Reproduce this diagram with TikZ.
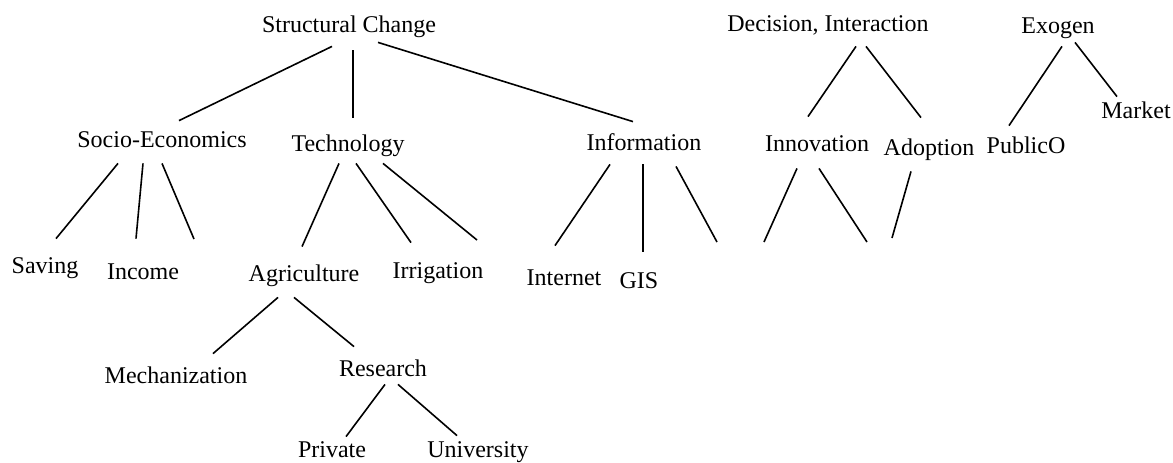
\documentclass[tikz,border=0pt]{standalone}
\usepackage{fontspec}
\setmainfont{Liberation Serif}

\tikzset{
  lbl/.style={inner sep=4pt, text height=9pt, text depth=3pt,
              font=\fontsize{12pt}{14pt}\selectfont},
  lowlbl/.style={lbl, inner sep=1pt, text depth=0pt},
  twig/.style={black, line width=0.8pt},
}

\begin{document}
\begin{tikzpicture}[x=0.5pt, y=-0.5pt]
    \useasboundingbox (0,0) rectangle (1173,462);

    % roots
    \node[lbl] (sc)       at (349,26)   {Structural Change};
    \node[lbl] (decision) at (828,25)   {Decision, Interaction};
    \node[lbl] (exogen)   at (1058,27)  {Exogen};

    % second row
    \node[lbl] (socio)    at (162,141)  {Socio-Economics};
    \node[lbl] (tech)     at (348,145)  {Technology};
    \node[lbl] (info)     at (644,144)  {Information};
    \node[lbl] (innov)    at (817,145)  {Innovation};
    \node[lbl] (adopt)    at (929,149)  {Adoption};
    \node[lbl] (publico)  at (1026,147) {PublicO};
    \node[lbl] (market)   at (1136,112) {Market};

    % third row
    \node[lbl] (saving)   at (45,267)   {Saving};
    \node[lbl] (income)   at (143,273)  {Income};
    \node[lbl] (agri)     at (304,275)  {Agriculture};
    \node[lbl] (irrig)    at (438,272)  {Irrigation};
    \node[lbl] (internet) at (564,279)  {Internet};
    \node[lbl] (gis)      at (639,282)  {GIS};

    % agriculture branch
    \node[lbl] (mech)     at (176,377)  {Mechanization};
    \node[lbl] (research) at (383,370)  {Research};
    \node[lowlbl] (private) at (332,448) {Private};
    \node[lowlbl] (univ)    at (478,448) {University};

    % open ends
    \coordinate (socio-x) at (194,239);
    \coordinate (tech-x)  at (477,240);
    \coordinate (info-x)  at (717,242);
    \coordinate (innov-a) at (764,242);
    \coordinate (innov-b) at (867,242);
    \coordinate (adopt-x) at (892,238);

    \draw[twig] ([shift={(-17,0)}]sc.south) -- ([shift={(17,0)}]socio.north);
    \draw[twig] ([shift={(4,4)}]sc.south)   -- ([shift={(5,-7)}]tech.north);
    \draw[twig] ([shift={(29,-4)}]sc.south) -- ([shift={(-11,-2)}]info.north);

    \draw[twig] ([shift={(-44,2)}]socio.south) -- ([shift={(11,-8)}]saving.north);
    \draw[twig] ([shift={(-19,2)}]socio.south) -- ([shift={(-7,-14)}]income.north);
    \draw[twig] ([shift={(0,2)}]socio.south)   -- (socio-x);

    \draw[twig] ([shift={(-9,-2)}]tech.south) -- ([shift={(-2,-8)}]agri.north);
    \draw[twig] ([shift={(8,-2)}]tech.south)  -- ([shift={(-27,-9)}]irrig.north);
    \draw[twig] ([shift={(35,-2)}]tech.south) -- (tech-x);

    \draw[twig] ([shift={(-26,2)}]agri.south) -- ([shift={(37,-3)}]mech.north);
    \draw[twig] ([shift={(-10,2)}]agri.south) -- ([shift={(-29,-3)}]research.north);

    \draw[twig] ([shift={(2,-6)}]research.south)  -- ([shift={(14,0)}]private.north);
    \draw[twig] ([shift={(15,-6)}]research.south) -- ([shift={(-21,-1)}]univ.north);

    \draw[twig] ([shift={(-34,0)}]info.south) -- ([shift={(-9,-13)}]internet.north);
    \draw[twig] ([shift={(-1,0)}]info.south)  -- ([shift={(4,-10)}]gis.north);
    \draw[twig] ([shift={(32,2)}]info.south)  -- (info-x);

    \draw[twig] ([shift={(28,1)}]decision.south) -- ([shift={(-9,-8)}]innov.north);
    \draw[twig] ([shift={(38,1)}]decision.south) -- ([shift={(-8,-11)}]adopt.north);

    \draw[twig] ([shift={(-20,3)}]innov.south) -- (innov-a);
    \draw[twig] ([shift={(2,3)}]innov.south)   -- (innov-b);
    \draw[twig] ([shift={(-18,2)}]adopt.south) -- (adopt-x);

    \draw[twig] ([shift={(4,-1)}]exogen.south)  -- ([shift={(-17,-1)}]publico.north);
    \draw[twig] ([shift={(17,-5)}]exogen.south) -- ([shift={(-19,5)}]market.north);
\end{tikzpicture}
\end{document}
